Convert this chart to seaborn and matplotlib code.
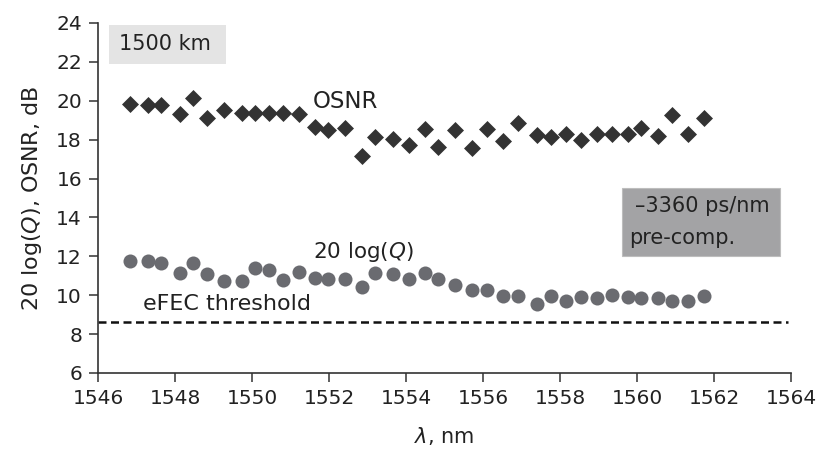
import matplotlib
matplotlib.use("Agg")
import matplotlib.pyplot as plt
import matplotlib.patches as mpatches
import pandas as pd
import seaborn as sns

# Channel wavelengths (nm)
wavelength = [1546.83, 1547.29, 1547.64, 1548.13, 1548.46, 1548.84, 1549.27, 1549.73,
              1550.08, 1550.45, 1550.81, 1551.23, 1551.64, 1551.98, 1552.42, 1552.85,
              1553.19, 1553.67, 1554.09, 1554.49, 1554.84, 1555.27, 1555.72, 1556.10,
              1556.51, 1556.92, 1557.39, 1557.76, 1558.16, 1558.54, 1558.95, 1559.34,
              1559.76, 1560.10, 1560.55, 1560.90, 1561.32, 1561.74]

# Optical signal-to-noise ratio per channel (dB)
osnr_db = [19.85, 19.8, 19.8, 19.3, 20.15, 19.1, 19.5, 19.35, 19.35, 19.35,
           19.35, 19.3, 18.65, 18.5, 18.6, 17.15, 18.15, 18.05, 17.75, 18.55,
           17.6, 18.5, 17.55, 18.55, 17.95, 18.85, 18.25, 18.15, 18.3, 18.0,
           18.3, 18.3, 18.3, 18.6, 18.2, 19.25, 18.3, 19.1]

# Q factor per channel, 20 log(Q) (dB)
q_db = [11.75, 11.75, 11.65, 11.15, 11.65, 11.1, 10.75, 10.75, 11.4, 11.3,
        10.8, 11.2, 10.9, 10.85, 10.85, 10.4, 11.15, 11.1, 10.85, 11.15,
        10.85, 10.5, 10.25, 10.25, 9.95, 9.95, 9.55, 9.95, 9.7, 9.9,
        9.85, 10.0, 9.9, 9.85, 9.85, 9.7, 9.7, 9.95]

efec_threshold = 8.6

x_ticks = [1546, 1548, 1550, 1552, 1554, 1556, 1558, 1560, 1562, 1564]
y_ticks = [6, 8, 10, 12, 14, 16, 18, 20, 22, 24]

df = pd.DataFrame({"wavelength": wavelength, "osnr": osnr_db, "q": q_db})

sns.set_theme(style="ticks")
plt.rcParams["font.family"] = ["DejaVu Sans"]
plt.rcParams["mathtext.fontset"] = "dejavusans"

text_color = "#222222"
axis_color = "#333333"

fig = plt.figure(figsize=(8.21, 4.58), dpi=100)
ax = fig.add_axes([0.1194, 0.1856, 0.8441, 0.7642])

sns.scatterplot(data=df, x="wavelength", y="osnr", marker="D", s=75,
                color="#333333", linewidth=0, ax=ax, zorder=3)
sns.scatterplot(data=df, x="wavelength", y="q", marker="o", s=102,
                color="#6a6b70", linewidth=0, ax=ax, zorder=3)

ax.axhline(efec_threshold, xmin=0, xmax=0.995, color="#111111", lw=1.8,
           dashes=(3.2, 1.8), zorder=2)

ax.set_xlim(1546, 1564)
ax.set_ylim(6, 24)
ax.set_xticks(x_ticks)
ax.set_yticks(y_ticks)
ax.tick_params(axis="both", direction="out", length=6.5, width=1.1,
               color=axis_color, labelsize=14.5, labelcolor=text_color, pad=5)

sns.despine(ax=ax)
for side in ("left", "bottom"):
    ax.spines[side].set_color(axis_color)
    ax.spines[side].set_linewidth(1.2)

ax.set_xlabel(r"$\lambda$, nm", fontsize=15, color=text_color, labelpad=12)
ax.set_ylabel(r"20 log($Q$), OSNR, dB", fontsize=16, color=text_color, labelpad=9)

# Annotation boxes
ax.add_patch(mpatches.Rectangle((1546.29, 21.9), 3.03, 2.0, facecolor="#e4e4e4",
                                edgecolor="none", zorder=1))
ax.text(1546.55, 22.9, "1500 km", fontsize=15, color=text_color, va="center", ha="left")

ax.add_patch(mpatches.Rectangle((1559.61, 12.02), 4.1, 3.5, facecolor="#a3a3a5",
                                edgecolor="#bdbdbd", lw=0.8, zorder=1))
ax.text(1559.95, 14.6, "\u20133360 ps/nm", fontsize=15, color=text_color,
        va="center", ha="left")
ax.text(1559.8, 12.95, "pre-comp.", fontsize=15, color=text_color,
        va="center", ha="left")

# Series labels
ax.text(1551.58, 19.94, "OSNR", fontsize=16.5, color=text_color, va="center", ha="left")
ax.text(1551.58, 12.22, r"20 log($Q$)", fontsize=15.5, color=text_color,
        va="center", ha="left")
ax.text(1547.17, 9.55, "eFEC threshold", fontsize=16, color=text_color,
        va="center", ha="left")

fig.savefig("out.png", dpi=100)
